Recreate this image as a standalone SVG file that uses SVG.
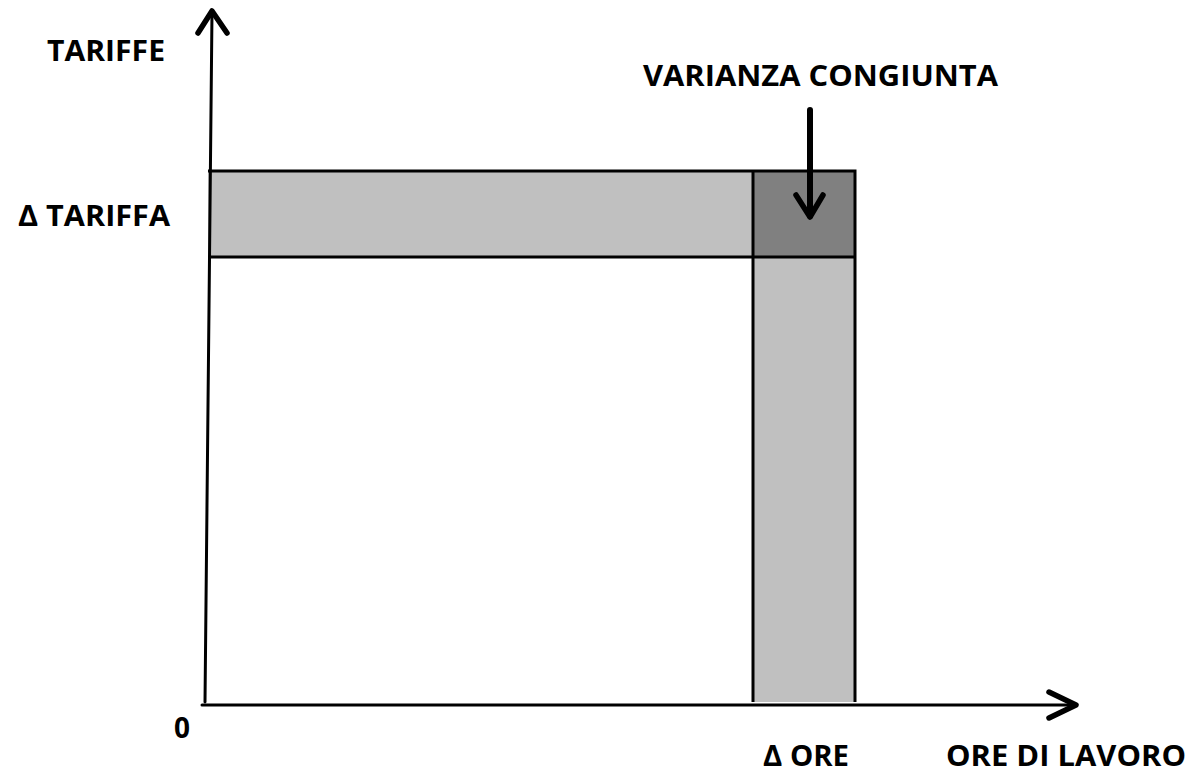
<svg xmlns="http://www.w3.org/2000/svg" width="1195" height="772" viewBox="0 0 1195 772">
<style>
.lbl{font-family:"Open Sans","Liberation Sans",sans-serif;font-weight:bold;fill:#000;font-size:28px}
.ax{stroke:#000;stroke-width:3;fill:none;stroke-linecap:round;stroke-linejoin:round}
.head{stroke:#000;stroke-width:5.5;fill:none;stroke-linecap:round;stroke-linejoin:round}
.band{fill:#c0c0c0}
</style>
<rect width="1195" height="772" fill="#fff"/>
<g id="bands">
<rect class="band" x="208" y="171" width="647" height="86"/>
<rect class="band" x="752" y="171" width="103" height="531"/>
<rect id="joint" x="754" y="172" width="101" height="85" fill="#808080"/>
<path d="M208 171 H855 V702 M208 257 H855 M753 171 V702" fill="none" stroke="#000" stroke-width="3"/>
</g>
<g id="connectors">
<path class="ax" d="M205 702 L212 12"/>
<path class="head" d="M198 33 L212 11 L227 33"/>
<path class="ax" d="M202 705 H1074"/>
<path class="head" d="M1049 692 L1076 705 L1049 718"/>
<path class="head" d="M810 110 V216" style="stroke-width:6"/>
<path class="head" d="M796 195 L810 217 L823 195"/>
</g>
<g id="labels">
<text class="lbl" x="47" y="61" textLength="118" lengthAdjust="spacingAndGlyphs">TARIFFE</text>
<text class="lbl" x="18" y="226" textLength="152" lengthAdjust="spacingAndGlyphs">Δ TARIFFA</text>
<text class="lbl" x="643" y="86" textLength="355" lengthAdjust="spacingAndGlyphs">VARIANZA CONGIUNTA</text>
<text class="lbl" x="174" y="738" font-size="22">0</text>
<text class="lbl" x="763" y="766" textLength="86" lengthAdjust="spacingAndGlyphs">Δ ORE</text>
<text class="lbl" x="946" y="766" textLength="240" lengthAdjust="spacingAndGlyphs">ORE DI LAVORO</text>
</g>
</svg>
